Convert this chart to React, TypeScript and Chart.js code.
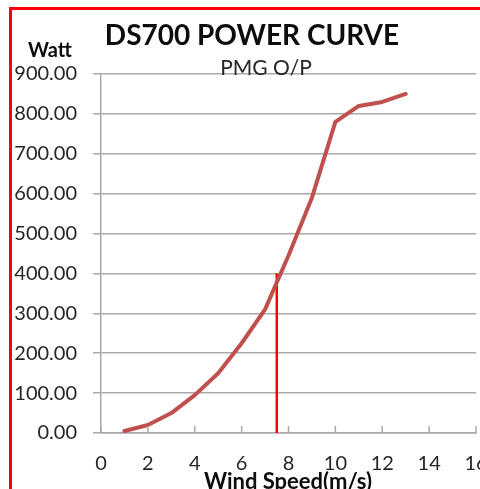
import React, { useEffect, useRef } from 'react';
import { Chart, registerables } from 'chart.js';

Chart.register(...registerables);

// ---- data ----
const windSpeed = [1, 2, 3, 4, 5, 6, 7, 8, 9, 10, 11, 12, 13];
const powerWatt = [5, 20, 50, 95, 150, 225, 310, 445, 590, 780, 820, 830, 850];
const markerSpeed = [7.5, 7.5];
const markerPower = [0, 400];
const xRange = [0, 16];
const yRange = [0, 900];
const xStep = 2;
const yStep = 100;

const chartTitle = 'DS700 POWER CURVE';
const chartSubtitle = 'PMG O/P';
const yAxisTitle = 'Watt';
const xAxisTitle = 'Wind Speed(m/s)';

const FONT = 'Lato, "Open Sans", sans-serif';
const GRID = '#a9a9a9';

const textPlugin = {
  id: 'textPlugin',
  afterDraw(chart: any) {
    const ctx = chart.ctx;
    ctx.save();
    ctx.textBaseline = 'alphabetic';
    ctx.fillStyle = '#0d0d0d';
    ctx.font = `bold 28px ${FONT}`;
    ctx.textAlign = 'center';
    ctx.fillText(chartTitle, 252, 45);
    ctx.fillStyle = '#262626';
    ctx.font = `21px ${FONT}`;
    ctx.fillText(chartSubtitle, 266, 75);
    ctx.fillStyle = '#0d0d0d';
    ctx.font = `bold 20px ${FONT}`;
    ctx.textAlign = 'left';
    ctx.fillText(yAxisTitle, 28, 57);
    ctx.textAlign = 'center';
    ctx.font = `bold 22px ${FONT}`;
    ctx.fillText(xAxisTitle, 288, 489);
    ctx.restore();
  },
};

const innerTicksPlugin = {
  id: 'innerTicks',
  afterDatasetsDraw(chart: any) {
    const x = chart.scales.x;
    const ctx = chart.ctx;
    ctx.save();
    ctx.strokeStyle = GRID;
    ctx.lineWidth = 1.5;
    x.ticks.forEach((t: any) => {
      const px = x.getPixelForValue(t.value);
      ctx.beginPath();
      ctx.moveTo(px, x.top);
      ctx.lineTo(px, x.top - 7);
      ctx.stroke();
    });
    ctx.restore();
  },
};

export default function App() {
  const ref = useRef<HTMLCanvasElement | null>(null);
  useEffect(() => {
    if (!ref.current) return;
    const chart = new Chart(ref.current, {
      type: 'line',
      data: {
        datasets: [
          {
            label: 'Power',
            data: windSpeed.map((w, i) => ({ x: w, y: powerWatt[i] })),
            borderColor: '#c0504d',
            borderWidth: 4,
            pointRadius: 0,
            tension: 0,
            borderCapStyle: 'round',
            borderJoinStyle: 'round',
          },
          {
            label: 'Marker',
            data: markerSpeed.map((w, i) => ({ x: w, y: markerPower[i] })),
            borderColor: '#ff0000',
            borderWidth: 2.5,
            pointRadius: 0,
          },
        ],
      },
      options: {
        animation: false,
        responsive: false,
        layout: { padding: { top: 74, right: 4, left: 0, bottom: 0 } },
        plugins: {
          legend: { display: false },
          tooltip: { enabled: false },
          title: { display: false },
        },
        scales: {
          x: {
            type: 'linear',
            min: xRange[0],
            max: xRange[1],
            ticks: {
              stepSize: xStep,
              color: '#262626',
              font: { family: FONT, size: 20 },
              padding: 19,
              maxRotation: 0,
            },
            grid: { drawOnChartArea: false, drawTicks: false, color: GRID },
            border: { color: GRID, width: 1.5 },
            afterFit(scale: any) {
              scale.height = 56;
              scale.paddingLeft = 0;
              scale.paddingRight = 0;
            },
          },
          y: {
            type: 'linear',
            min: yRange[0],
            max: yRange[1],
            ticks: {
              stepSize: yStep,
              color: '#262626',
              font: { family: FONT, size: 20 },
              padding: 16,
              callback: (v: any) => Number(v).toFixed(2),
            },
            grid: { color: GRID, lineWidth: 1.5, tickLength: 8 },
            border: { color: GRID, width: 1.5 },
            afterFit(scale: any) {
              scale.width = 101;
              scale.paddingTop = 0;
              scale.paddingBottom = 0;
            },
          },
        },
      },
      plugins: [innerTicksPlugin, textPlugin],
    } as any);
    return () => chart.destroy();
  }, []);

  return (
    <div style={{ position: 'fixed', left: 0, top: 0, width: 480, height: 489, background: '#fff', overflow: 'hidden' }}>
      <canvas ref={ref} width={480} height={489} style={{ position: 'absolute', left: 0, top: 0, width: 480, height: 489 }} />
      <div
        style={{
          position: 'absolute',
          left: 9,
          top: 7,
          right: 0,
          bottom: -10,
          borderLeft: '3px solid #ff0000',
          borderTop: '3px solid #ff0000',
          pointerEvents: 'none',
        }}
      />
    </div>
  );
}
